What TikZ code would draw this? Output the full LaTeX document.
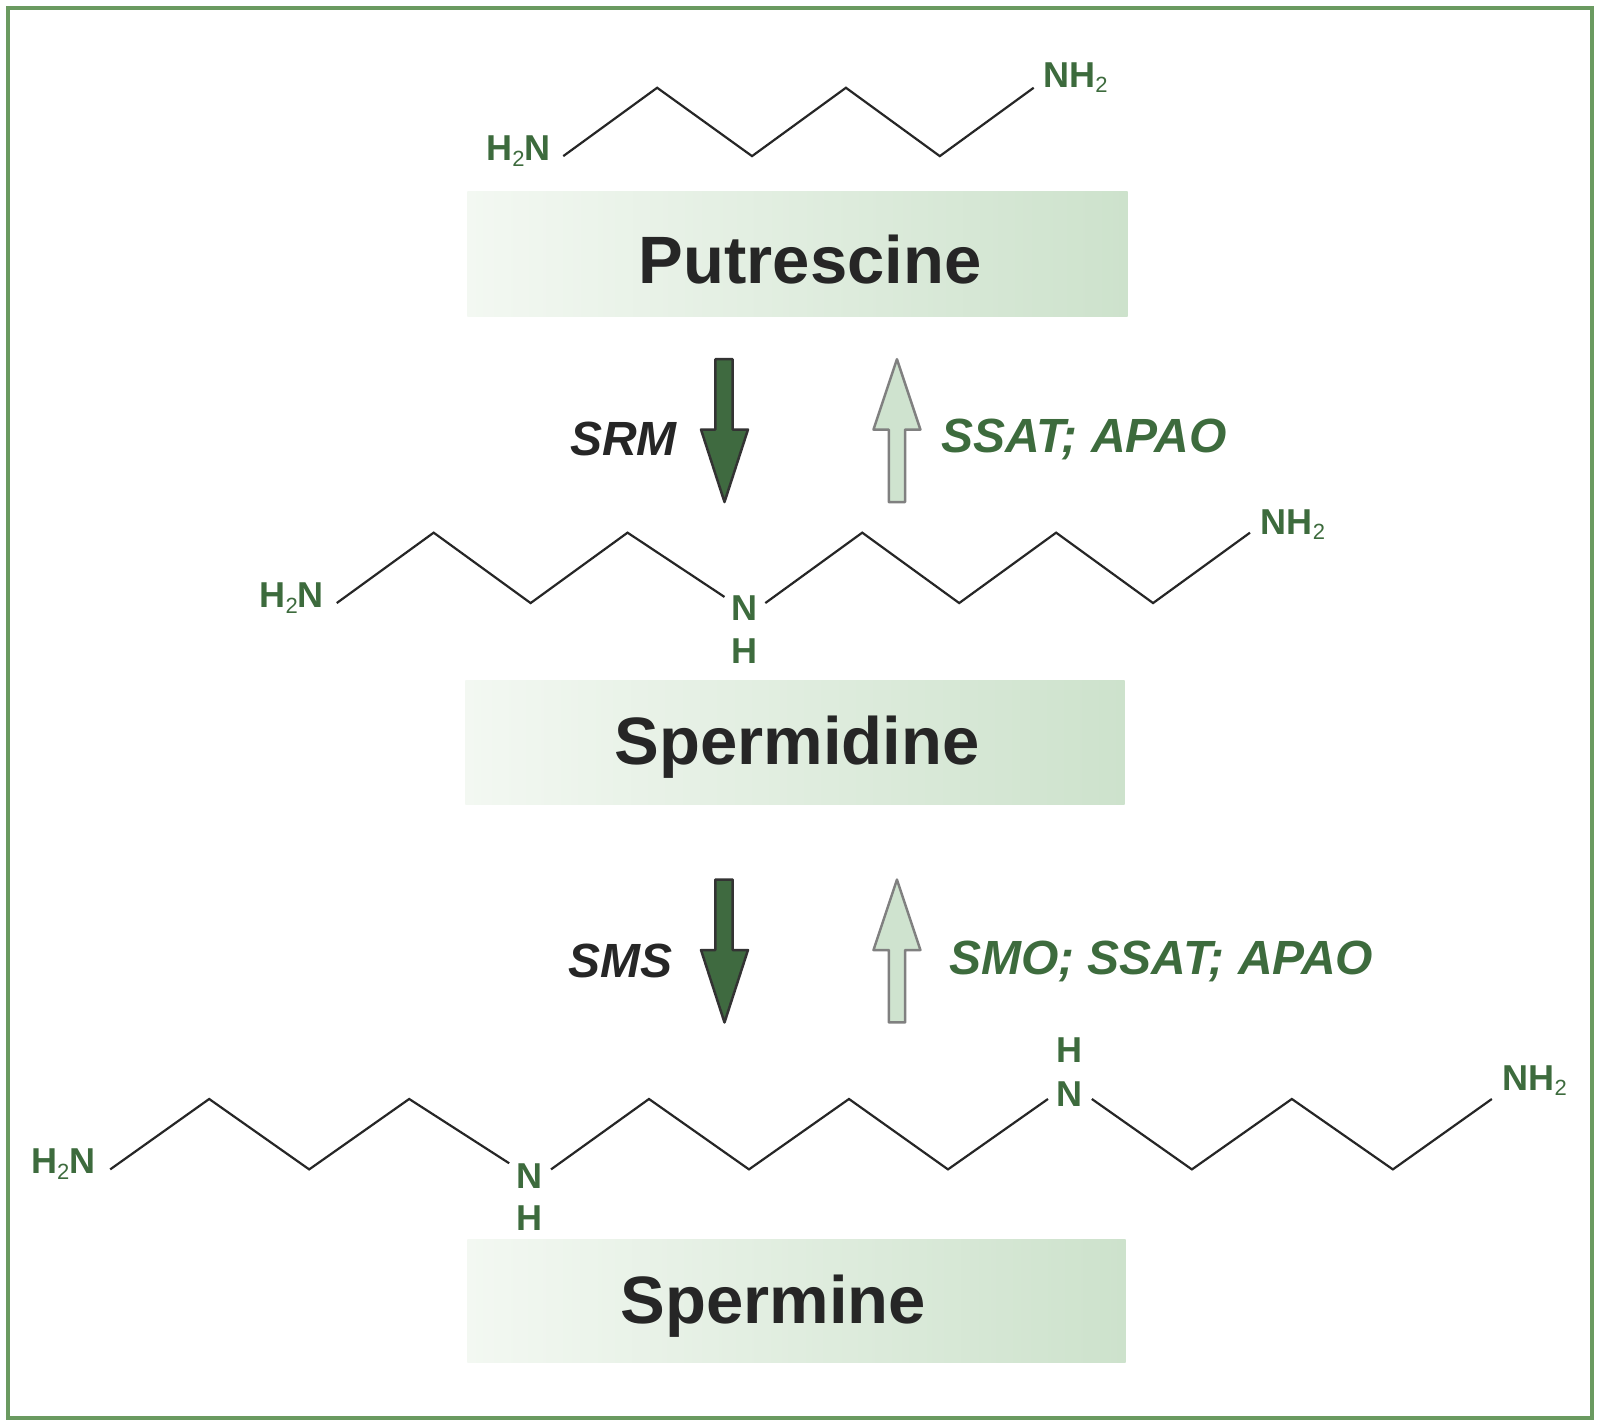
\documentclass[tikz,border=0pt]{standalone}
\usepackage{fontspec}
\setmainfont{Liberation Sans}
\begin{document}
\definecolor{frame}{HTML}{6A9A60}
\definecolor{dg}{HTML}{3D6B3D}
\definecolor{boxl}{HTML}{F3F8F2}
\definecolor{boxr}{HTML}{CDE2CC}
\definecolor{arrd}{HTML}{3F6A40}
\definecolor{arrl}{HTML}{CFE3CF}
\newcommand{\subtwo}{\raisebox{-0.15em}{\fontsize{22}{22}\selectfont\mdseries 2}}
\begin{tikzpicture}[x=1.0204pt,y=-1.0204pt,
  atom/.style={text=dg,font=\fontsize{36}{38}\selectfont\bfseries,inner sep=0pt},
  bond/.style={line width=2.2pt,color=black!85},
  title/.style={font=\fontsize{67}{70}\selectfont\bfseries,text=black!85},
  enz/.style={font=\fontsize{48}{50}\selectfont\bfseries\itshape,inner sep=0pt},
  dn/.style={fill=arrd,draw=black!80,line width=2.5pt,line join=round},
  up/.style={fill=arrl,draw=black!50,line width=2.5pt,line join=round}]
\useasboundingbox (0,0) rectangle (1568,1397.5);
\draw[frame,line width=4pt] (8,8) rectangle (1560,1390);
% boxes
\shade[left color=boxl,right color=boxr] (458,188) rectangle (1105,310);
\node[title] (put) at (794,254) {Putrescine};
\shade[left color=boxl,right color=boxr] (456,667) rectangle (1102,788);
\node[title] (spd) at (781,732) {Spermidine};
\shade[left color=boxl,right color=boxr] (458,1215) rectangle (1103,1335);
\node[title] (spm) at (758,1280) {Spermine};
% putrescine
\node[atom] (a1) at (508,148) {H\subtwo N};
\node[atom] (a2) at (1054,76) {NH\subtwo};
\draw[bond] (552,153)--(644,86)--(737,153)--(829,86)--(921,153)--(1013,86);
% spermidine
\node[atom] (b1) at (286,586) {H\subtwo N};
\node[atom] (b2) at (730,596) {N};
\node[atom] (b3) at (730,638) {H};
\node[atom] (b4) at (1267,514) {NH\subtwo};
\draw[bond] (330,591)--(425,522)--(520,591)--(615,522)--(710,585);
\draw[bond] (750,591)--(845,522)--(940,591)--(1035,522)--(1130,591)--(1225,522);
% spermine
\node[atom] (c1) at (62,1141) {H\subtwo N};
\node[atom] (c2) at (519,1153) {N};
\node[atom] (c3) at (519,1194) {H};
\node[atom] (c4) at (1048,1072) {N};
\node[atom] (c5) at (1048,1029) {H};
\node[atom] (c6) at (1504,1059) {NH\subtwo};
\draw[bond] (108,1146)--(205,1077)--(303,1146)--(401,1077)--(499,1140);
\draw[bond] (540,1146)--(636,1077)--(734,1146)--(832,1077)--(929,1146)--(1027,1077);
\draw[bond] (1070,1077)--(1168,1146)--(1266,1077)--(1365,1146)--(1462,1077);
% arrows
\foreach \t in {0,510}{
 \draw[dn] (701,352+\t)--(718,352+\t)--(718,421+\t)--(733,421+\t)--(710,492+\t)--(687,421+\t)--(701,421+\t)--cycle;
 \draw[up] (871,492+\t)--(887,492+\t)--(887,421+\t)--(902,421+\t)--(879,352+\t)--(856,421+\t)--(871,421+\t)--cycle;
}
\node[enz,text=black!85] (e1) at (611,430) {SRM};
\node[enz,text=dg,anchor=west] (e2) at (922,431) {SSAT; APAO};
\node[enz,text=black!85] (e3) at (608,942) {SMS};
\node[enz,text=dg,anchor=west] (e4) at (930,942) {SMO; SSAT; APAO};
\end{tikzpicture}
\end{document}
